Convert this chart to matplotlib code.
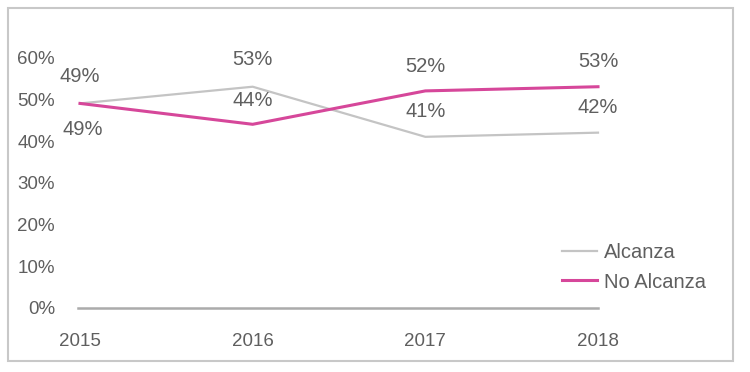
import matplotlib.pyplot as plt
import matplotlib.patches as mpatches

# datos
anios = ["2015", "2016", "2017", "2018"]
alcanza = [49, 53, 41, 42]
no_alcanza = [49, 44, 52, 53]
yticks = [0, 10, 20, 30, 40, 50, 60]

plt.rcParams['font.family'] = ['Liberation Sans', 'DejaVu Sans']
texto = "#5f5f5f"
gris = "#c4c4c4"
rosa = "#d6479a"

fig = plt.figure(figsize=(7.5, 3.72), dpi=100)
ax = fig.add_axes([80 / 750, 64 / 372, 518 / 750, 250.5 / 372])

x = list(range(len(anios)))
ax.plot(x, alcanza, color=gris, lw=1.6, label="Alcanza", clip_on=False, zorder=3)
ax.plot(x, no_alcanza, color=rosa, lw=2.2, label="No Alcanza", clip_on=False, zorder=4)

# etiquetas de datos (desplazamiento en pixeles)
off_alc = [(0, 27), (0, 27), (0, 25), (0, 25)]
off_no = [(3, -26), (0, 24), (0, 24), (0, 25)]
for i, v in enumerate(alcanza):
    ax.annotate(f"{v}%", (i, v), xytext=off_alc[i], textcoords="offset pixels",
                ha="center", va="center", fontsize=14.5, color=texto)
for i, v in enumerate(no_alcanza):
    ax.annotate(f"{v}%", (i, v), xytext=off_no[i], textcoords="offset pixels",
                ha="center", va="center", fontsize=14.5, color=texto)

ax.set_xlim(0, 3)
ax.set_ylim(0, 60)
ax.set_xticks(x)
ax.set_xticklabels(anios)
ax.set_yticks(yticks)
ax.set_yticklabels([f"{t}%" for t in yticks])
ax.tick_params(axis="both", length=0, colors=texto, labelsize=13.5)
ax.tick_params(axis="x", pad=18)
ax.tick_params(axis="y", pad=18)

for s in ["top", "right", "left"]:
    ax.spines[s].set_visible(False)
ax.spines["bottom"].set_color("#ababab")
ax.spines["bottom"].set_linewidth(1.8)
ax.spines["bottom"].set_bounds(-0.01, 3)

fig.legend(loc="center left", bbox_to_anchor=(562 / 750, 1 - 267.5 / 372),
           frameon=False, fontsize=14.5, labelcolor=texto, handlelength=1.75,
           handletextpad=0.35, labelspacing=0.5, borderpad=0, borderaxespad=0)

# marco exterior
fig.patches.append(mpatches.Rectangle((8 / 750, 11 / 372), 725 / 750, 353 / 372,
                                      transform=fig.transFigure, fill=False,
                                      edgecolor="#c8c8c8", lw=1.5))

fig.savefig("out.png", dpi=100)
